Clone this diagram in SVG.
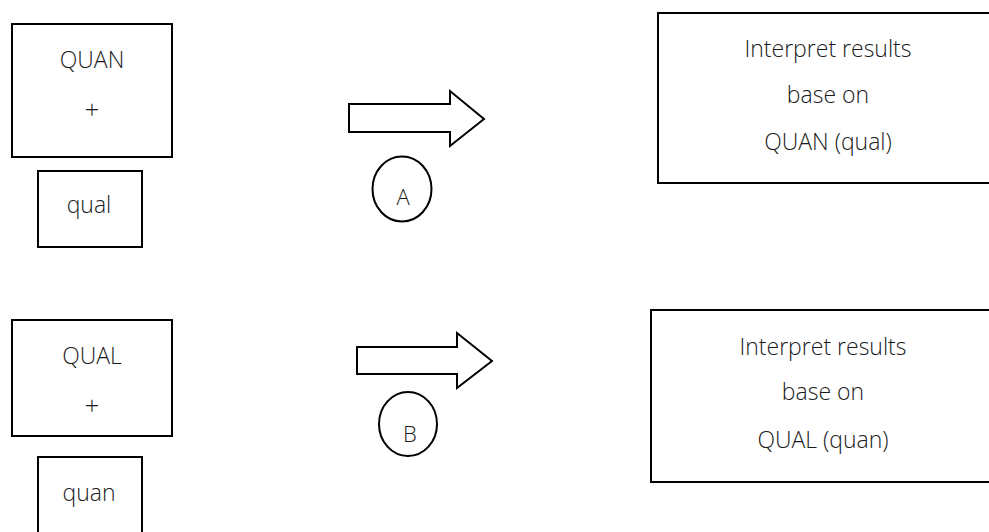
<svg xmlns="http://www.w3.org/2000/svg" width="989" height="532" viewBox="0 0 989 532">
  <style>
    .box { fill: #ffffff; stroke: #000000; stroke-width: 2; }
    .arrow { fill: #ffffff; stroke: #000000; stroke-width: 2; stroke-linejoin: miter; }
    .tag { fill: #ffffff; stroke: #000000; stroke-width: 2; }
    text { font-family: "Open Sans", "Noto Sans", "DejaVu Sans", sans-serif; font-weight: 300; font-size: 23px; fill: #1a1a1a; text-anchor: middle; }
    .plus { font-size: 26px; }
    .lbl { font-size: 22px; }
  </style>
  <rect width="989" height="532" fill="#ffffff"/>

  <!-- Design A: QUAN dominant, qual embedded -->
  <g id="quan-plus">
    <rect class="box" x="12" y="24" width="160" height="133"/>
    <text x="92" y="68">QUAN</text>
    <text class="plus" x="92" y="119">+</text>
  </g>
  <g id="qual-small">
    <rect class="box" x="38" y="171" width="104" height="76"/>
    <text x="89" y="213">qual</text>
  </g>
  <g id="result-a">
    <rect class="box" x="658" y="13" width="340" height="170"/>
    <text x="828" y="57">Interpret results</text>
    <text x="828" y="103">base on</text>
    <text x="828" y="150">QUAN (qual)</text>
  </g>

  <!-- Design B: QUAL dominant, quan embedded -->
  <g id="qual-plus">
    <rect class="box" x="12" y="320" width="160" height="116"/>
    <text x="92" y="364">QUAL</text>
    <text class="plus" x="92" y="415">+</text>
  </g>
  <g id="quan-small">
    <rect class="box" x="38" y="457" width="104" height="90"/>
    <text x="89" y="501">quan</text>
  </g>
  <g id="result-b">
    <rect class="box" x="651" y="310" width="347" height="172"/>
    <text x="823" y="355">Interpret results</text>
    <text x="823" y="400">base on</text>
    <text x="823" y="448">QUAL (quan)</text>
  </g>

  <!-- Block arrows with their labels -->
  <g id="connectors">
    <g id="arrow-a">
      <polygon class="arrow" points="349,104 450,104 450,91 484,119 450,146 450,132 349,132"/>
      <ellipse class="tag" cx="402" cy="189" rx="29.5" ry="32.5"/>
      <text class="lbl" x="403" y="205">A</text>
    </g>
    <g id="arrow-b">
      <polygon class="arrow" points="357,347 457,347 457,333 492,361 457,388 457,374 357,374"/>
      <ellipse class="tag" cx="408" cy="424" rx="29" ry="32"/>
      <text class="lbl" x="410" y="442">B</text>
    </g>
  </g>
</svg>
